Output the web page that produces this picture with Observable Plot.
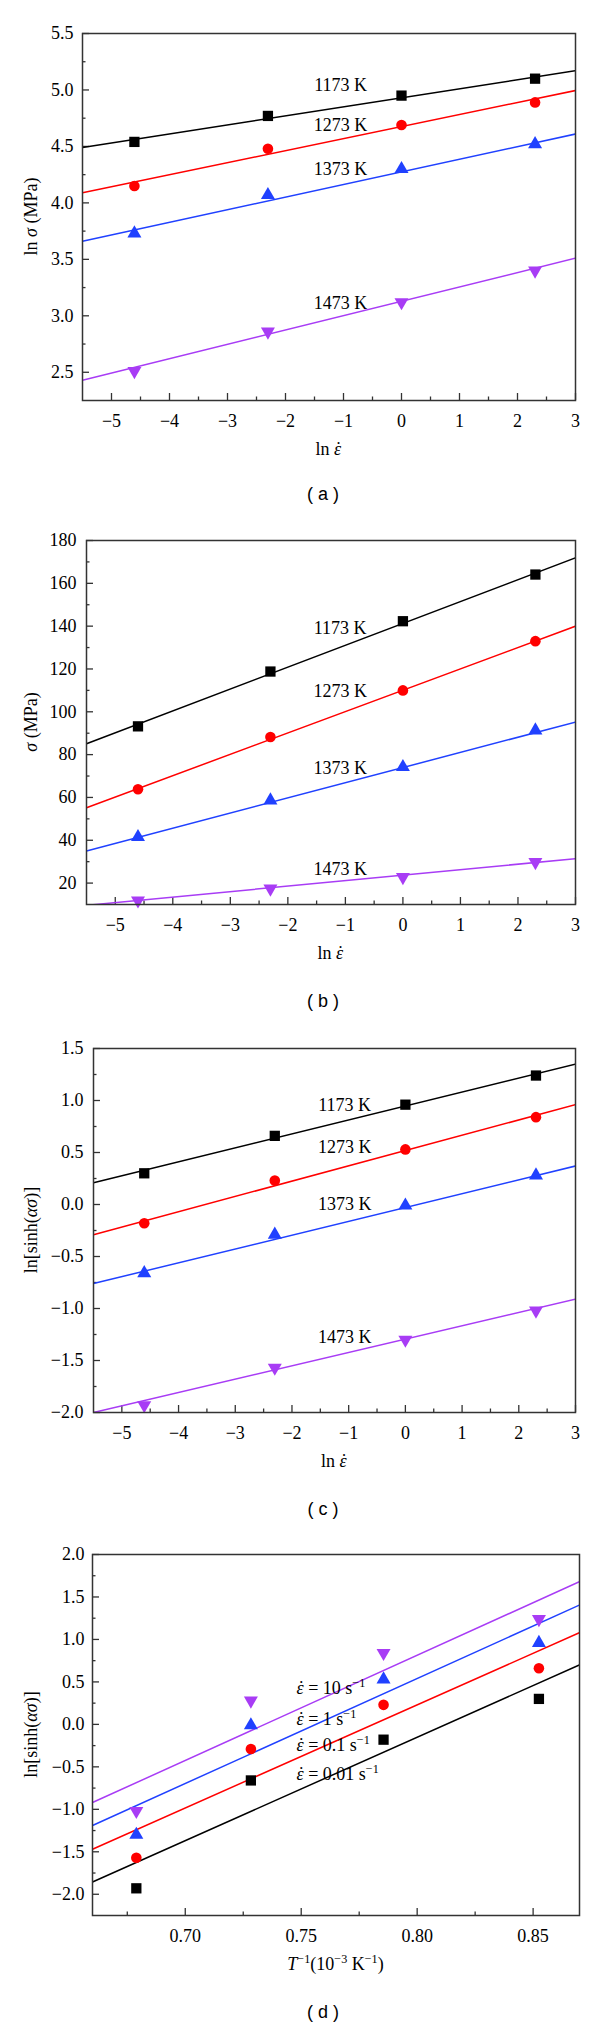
<!DOCTYPE html>
<html>
<head>
<meta charset="utf-8">
<script src="https://cdn.jsdelivr.net/npm/d3@7"></script>
<script src="https://cdn.jsdelivr.net/npm/@observablehq/plot@0.6"></script>
<style>
  body { margin: 0; background: #fff; }
  #page { position: relative; width: 600px; height: 2027px; overflow: hidden; background: #fff; }
  .panel { position: absolute; left: 0; width: 600px; }
  .cap { position: absolute; left: 0; width: 646px; text-align: center; line-height: 20px;
         font-family: "Liberation Sans", Arial, sans-serif; font-size: 18px; color: #000; white-space: pre; }
</style>
</head>
<body>
<div id="page">
  <div id="pa" class="panel" style="top:0px"></div>
  <div class="cap" style="top:484px">( a )</div>
  <div id="pb" class="panel" style="top:510px"></div>
  <div class="cap" style="top:991px">( b )</div>
  <div id="pc" class="panel" style="top:1015px"></div>
  <div class="cap" style="top:1499px">( c )</div>
  <div id="pd" class="panel" style="top:1525px"></div>
  <div class="cap" style="top:2002px">( d )</div>
</div>
<script>
// ---------- shared data ----------
const temps = ["1173 K", "1273 K", "1373 K", "1473 K"];
const lnRate = [-4.605, -2.303, 0, 2.303];              // ln(0.01), ln(0.1), ln(1), ln(10)
const seriesColors = ["#000000", "#ff0000", "#2041ff", "#a83cf5"];
const lnRateTicks = [-5, -4, -3, -2, -1, 0, 1, 2, 3];
const lnRateMinor = [-4.5, -3.5, -2.5, -1.5, -0.5, 0.5, 1.5, 2.5];

// ---------- (a) ln sigma vs ln strain rate ----------
const aLnSigma = [
  [4.54, 4.77, 4.95, 5.10],
  [4.15, 4.48, 4.69, 4.89],
  [3.73, 4.07, 4.30, 4.52],
  [2.51, 2.86, 3.12, 3.40]
];
const aFitAtMin = [4.49, 4.09, 3.66, 2.43];
const aFitAtMax = [5.17, 4.995, 4.61, 3.51];
const aLabelY = [5.04, 4.69, 4.30, 3.11];
const aLabelX = -1.05;
const aYTicks = [2.5, 3.0, 3.5, 4.0, 4.5, 5.0, 5.5];
const aYMinor = [2.75, 3.25, 3.75, 4.25, 4.75, 5.25];

// ---------- (b) sigma vs ln strain rate ----------
const bSigma = [
  [93.2, 118.8, 142.3, 164.1],
  [63.8, 88.2, 110.0, 133.0],
  [41.5, 58.6, 74.2, 91.3],
  [11.9, 17.4, 22.8, 29.8]
];
const bFitAtMin = [85.1, 55.2, 35.0, 9.6];
const bFitAtMax = [171.9, 140.0, 95.2, 31.4];
const bLabelY = [138.8, 109.6, 73.7, 26.4];
const bLabelX = -1.09;
const bYTicks = [20, 40, 60, 80, 100, 120, 140, 160, 180];
const bYMinor = [30, 50, 70, 90, 110, 130, 150, 170];

// ---------- (c) ln[sinh(alpha sigma)] vs ln strain rate ----------
const cLnSinh = [
  [0.30, 0.66, 0.96, 1.24],
  [-0.18, 0.23, 0.53, 0.84],
  [-0.66, -0.29, -0.01, 0.28],
  [-1.93, -1.57, -1.30, -1.02]
];
const cFitAtMin = [0.21, -0.29, -0.76, -2.0];
const cFitAtMax = [1.35, 0.96, 0.37, -0.91];
const cLabelY = [0.95, 0.55, 0.0, -1.28];
const cLabelX = -1.07;
const cYTicks = [-2.0, -1.5, -1.0, -0.5, 0.0, 0.5, 1.0, 1.5];
const cYMinor = [-1.75, -1.25, -0.75, -0.25, 0.25, 0.75, 1.25];

// ---------- (d) ln[sinh(alpha sigma)] vs 1/T ----------
const rateLabels = ["ε̇ = 0.01 s⁻¹", "ε̇ = 0.1 s⁻¹", "ε̇ = 1 s⁻¹", "ε̇ = 10 s⁻¹"];
const invT = [0.6789, 0.7283, 0.7855, 0.8525];           // 1473, 1373, 1273, 1173 K
const dLnSinh = [
  [-1.93, -0.66, -0.18, 0.30],
  [-1.57, -0.29, 0.23, 0.66],
  [-1.30, -0.01, 0.53, 0.96],
  [-1.02, 0.28, 0.84, 1.24]
];
const dFitAtMin = [-1.855, -1.47, -1.19, -0.92];
const dFitAtMax = [0.70, 1.08, 1.405, 1.68];
const dLabelY = [-0.59, -0.25, 0.06, 0.42];
const dLabelX = 0.748;
const dXTicks = [0.70, 0.75, 0.80, 0.85];
const dXMinor = [0.675, 0.725, 0.775, 0.825];
const dYTicks = [-2.0, -1.5, -1.0, -0.5, 0.0, 0.5, 1.0, 1.5, 2.0];
const dYMinor = [-1.75, -1.25, -0.75, -0.25, 0.25, 0.75, 1.25, 1.75];

// ---------- helpers ----------
const frameColor = "#333333";
const serif = "'Liberation Serif','Times New Roman',serif";
const svgNS = "http://www.w3.org/2000/svg";

const triDown = {
  draw(context, size) {
    const y = -Math.sqrt(size / (Math.sqrt(3) * 3));
    context.moveTo(0, -y * 2);
    context.lineTo(-Math.sqrt(3) * y, y);
    context.lineTo(Math.sqrt(3) * y, y);
    context.closePath();
  }
};
const seriesSymbols = ["square", "circle", "triangle", triDown];
const seriesR = [5.8, 5.3, 5.2, 5.2];

const italicChars = new Set(["ε", "α", "σ", "T"]);
const supMap = {"⁻": "−", "¹": "1", "³": "3"};
// turns a plain string (already in the DOM) into tspans: italics, superscripts, dotted epsilon
function richify(textEl, base) {
  const str = textEl.textContent;
  const segs = [];
  for (let k = 0; k < str.length; k++) {
    let ch = str[k];
    if (str[k + 1] === "\u0307") { segs.push({type: "epsdot", t: ch}); k++; continue; }
    const type = supMap[ch] ? "sup" : (italicChars.has(ch) ? "it" : "n");
    const out = supMap[ch] || ch;
    const last = segs[segs.length - 1];
    if (last && last.type === type) last.t += out; else segs.push({type, t: out});
  }
  while (textEl.firstChild) textEl.removeChild(textEl.firstChild);
  let shifted = false;
  let pendingDx = null;
  const fixes = [];
  for (const s of segs) {
    const ts = document.createElementNS(svgNS, "tspan");
    ts.textContent = s.t;
    if (s.type === "it" || s.type === "epsdot") ts.setAttribute("font-style", "italic");
    if (s.type === "sup") {
      ts.setAttribute("font-size", (base * 0.68).toFixed(1));
      if (!shifted) { ts.setAttribute("dy", (-base * 0.4).toFixed(1)); shifted = true; }
    } else if (shifted) {
      ts.setAttribute("dy", (base * 0.4).toFixed(1)); shifted = false;
    }
    if (pendingDx) { pendingDx.next = ts; pendingDx = null; }
    textEl.appendChild(ts);
    if (s.type === "epsdot") {
      const dot = document.createElementNS(svgNS, "tspan");
      dot.textContent = "˙";
      textEl.appendChild(dot);
      const fix = {eps: ts, dot, next: null};
      fixes.push(fix);
      pendingDx = fix;
    }
  }
  for (const f of fixes) {
    const epsW = f.eps.getComputedTextLength();
    const dotW = f.dot.getComputedTextLength();
    const o = base * 0.06;  // italic lean
    const d = epsW / 2 + dotW / 2 - o;
    f.dot.setAttribute("dx", (-d).toFixed(2));
    if (f.next) {
      const prev = parseFloat(f.next.getAttribute("dx") || "0");
      f.next.setAttribute("dx", (prev + d - dotW).toFixed(2));
    }
  }
}

function buildPanel(cfg, container) {
  const fw = 600 - cfg.ml - cfg.mr;
  const fh = cfg.h - cfg.mt - cfg.mb;
  const tickStyle = {stroke: frameColor, strokeWidth: 1.3};
  const marks = [
    Plot.tickY(cfg.yMinor, {y: d => d, insetRight: fw - 3.5, ...tickStyle}),
    Plot.tickY(cfg.yMajor, {y: d => d, insetRight: fw - 7, ...tickStyle}),
    Plot.tickX(cfg.xMinor, {x: d => d, insetTop: fh - 3.5, ...tickStyle}),
    Plot.tickX(cfg.xMajor, {x: d => d, insetTop: fh - 7, ...tickStyle}),
    Plot.axisX(cfg.xMajor, {tickSize: 0, tickPadding: 14, tickFormat: cfg.xFmt, label: null}),
    Plot.axisY(cfg.yMajor, {tickSize: 0, tickPadding: cfg.pad, tickFormat: cfg.yFmt, label: null})
  ];
  cfg.series.forEach(s => {
    const fit = [{x: cfg.xDomain[0], y: s.fitMin}, {x: cfg.xDomain[1], y: s.fitMax}];
    marks.push(Plot.line(fit, {x: "x", y: "y", stroke: s.color, strokeWidth: 1.5, clip: true}));
  });
  cfg.series.forEach(s => {
    const pts = s.xs.map((x, j) => ({x, y: s.ys[j]}));
    marks.push(Plot.dot(pts, {x: "x", y: "y", fill: s.color, stroke: "none", symbol: s.symbol, r: s.r}));
  });
  const labelRows = cfg.series.map(s => ({x: cfg.labelX, y: s.labelY, text: s.label}));
  marks.push(Plot.text(labelRows, {x: "x", y: "y", text: "text", fill: "#000", fontSize: 18,
    textAnchor: cfg.labelAnchor, fontFamily: serif}));
  marks.push(Plot.frame({stroke: frameColor, strokeWidth: 1.5}));

  const svgEl = Plot.plot({
    width: 600, height: cfg.h,
    marginLeft: cfg.ml, marginRight: cfg.mr, marginTop: cfg.mt, marginBottom: cfg.mb,
    x: {domain: cfg.xDomain},
    y: {domain: cfg.yDomain},
    style: {fontFamily: serif, fontSize: "18px", color: "#000", background: "#fff", overflow: "visible"},
    marks
  });
  container.appendChild(svgEl);
  const svg = d3.select(svgEl);
  svg.selectAll("text").each(function () {
    if (/[ε⁻]/.test(this.textContent)) richify(this, 18);
  });
  // axis titles
  const cx = cfg.ml + fw / 2;
  const xt = svg.append("text").attr("x", cx).attr("y", cfg.h - cfg.mb + 55)
    .attr("text-anchor", "middle").attr("font-size", 18).attr("fill", "#000")
    .attr("font-family", serif).text(cfg.xTitle);
  richify(xt.node(), 18);
  const cy = cfg.mt + fh / 2;
  const yt = svg.append("text").attr("transform", `translate(37,${cy}) rotate(-90)`)
    .attr("text-anchor", "middle").attr("font-size", 18).attr("fill", "#000")
    .attr("font-family", serif).text(cfg.yTitle);
  richify(yt.node(), 18);
}

function makeSeries(xsFor, values, fitMin, fitMax, labelY, labels) {
  return values.map((ys, i) => ({
    xs: xsFor, ys, fitMin: fitMin[i], fitMax: fitMax[i], labelY: labelY[i], label: labels[i],
    color: seriesColors[i], symbol: seriesSymbols[i], r: seriesR[i]
  }));
}

const fmtInt = d3.format("d");
const fmt1 = d3.format(".1f");
const fmt2 = d3.format(".2f");

buildPanel({
  h: 470, ml: 82, mr: 25, mt: 33, mb: 70, pad: 9,
  xDomain: [-5.5, 3], yDomain: [2.25, 5.5],
  xMajor: lnRateTicks, xMinor: lnRateMinor, yMajor: aYTicks, yMinor: aYMinor,
  xFmt: fmtInt, yFmt: fmt1,
  series: makeSeries(lnRate, aLnSigma, aFitAtMin, aFitAtMax, aLabelY, temps),
  labelX: aLabelX, labelAnchor: "middle",
  xTitle: "ln ε̇", yTitle: "ln σ (MPa)"
}, document.getElementById("pa"));

buildPanel({
  h: 460, ml: 86, mr: 25, mt: 30, mb: 66, pad: 10,
  xDomain: [-5.5, 3], yDomain: [10, 180],
  xMajor: lnRateTicks, xMinor: lnRateMinor, yMajor: bYTicks, yMinor: bYMinor,
  xFmt: fmtInt, yFmt: fmtInt,
  series: makeSeries(lnRate, bSigma, bFitAtMin, bFitAtMax, bLabelY, temps),
  labelX: bLabelX, labelAnchor: "middle",
  xTitle: "ln ε̇", yTitle: "σ (MPa)"
}, document.getElementById("pb"));

buildPanel({
  h: 460, ml: 93, mr: 25, mt: 33, mb: 63, pad: 10,
  xDomain: [-5.5, 3], yDomain: [-2.0, 1.5],
  xMajor: lnRateTicks, xMinor: lnRateMinor, yMajor: cYTicks, yMinor: cYMinor,
  xFmt: fmtInt, yFmt: fmt1,
  series: makeSeries(lnRate, cLnSinh, cFitAtMin, cFitAtMax, cLabelY, temps),
  labelX: cLabelX, labelAnchor: "middle",
  xTitle: "ln ε̇", yTitle: "ln[sinh(ασ)]"
}, document.getElementById("pc"));

buildPanel({
  h: 460, ml: 92, mr: 21, mt: 29, mb: 70, pad: 8,
  xDomain: [0.66, 0.87], yDomain: [-2.25, 2.0],
  xMajor: dXTicks, xMinor: dXMinor, yMajor: dYTicks, yMinor: dYMinor,
  xFmt: fmt2, yFmt: fmt1,
  series: makeSeries(invT, dLnSinh, dFitAtMin, dFitAtMax, dLabelY, rateLabels),
  labelX: dLabelX, labelAnchor: "start",
  xTitle: "T⁻¹(10⁻³ K⁻¹)", yTitle: "ln[sinh(ασ)]"
}, document.getElementById("pd"));
</script>
</body>
</html>
